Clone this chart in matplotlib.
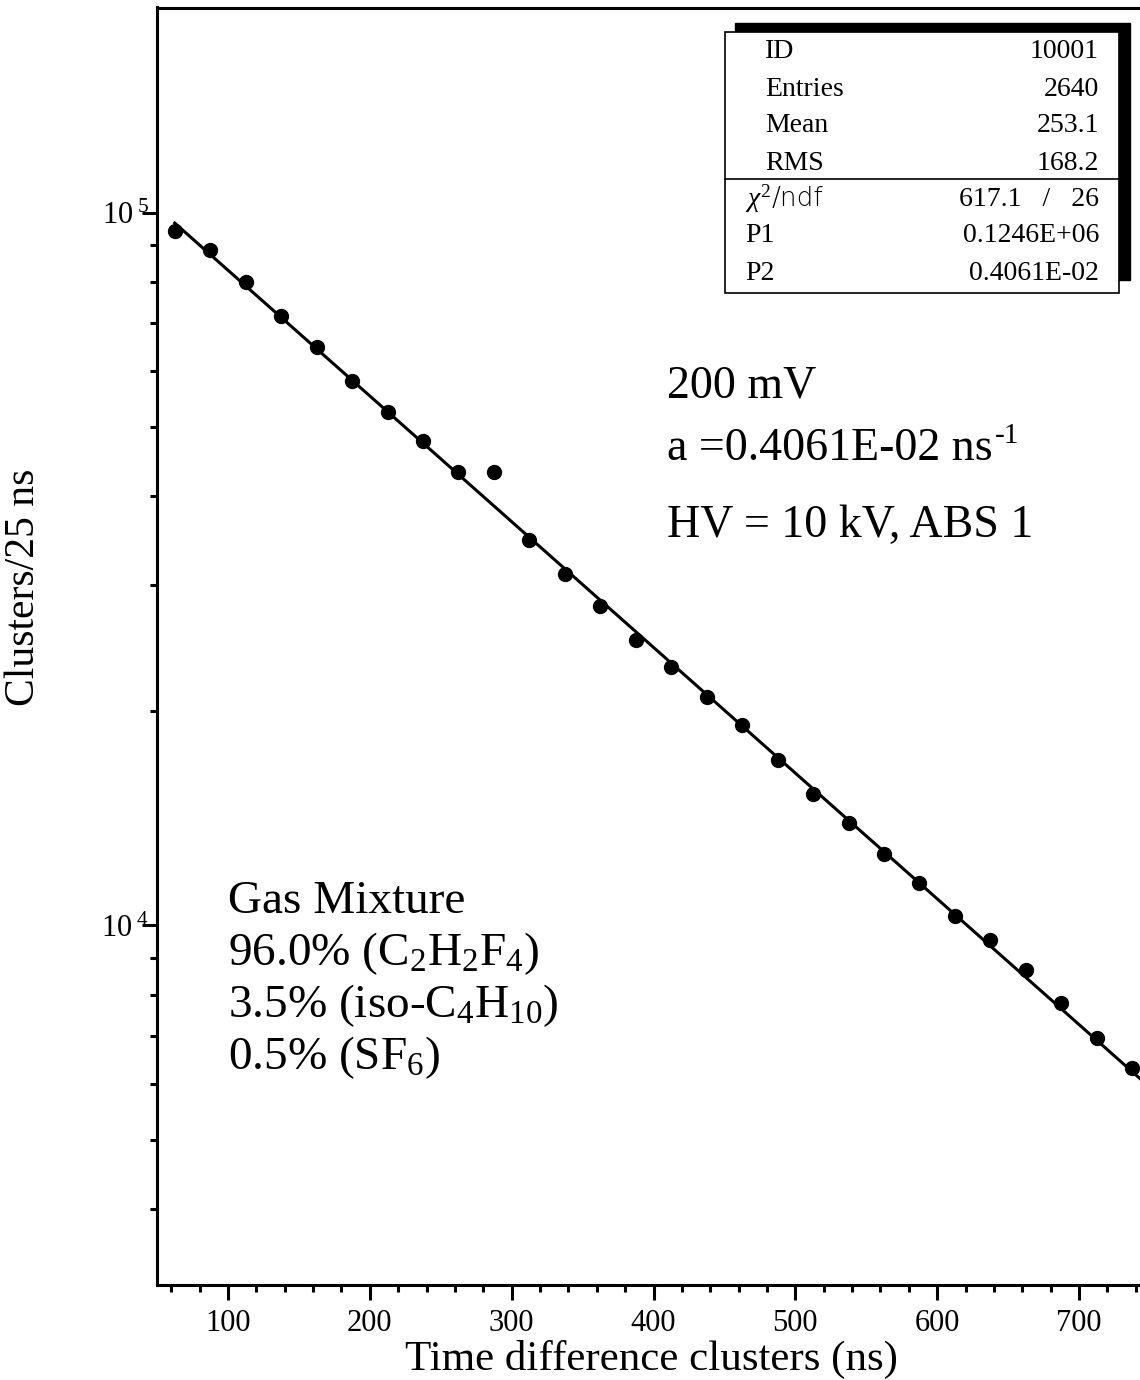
#Bibliotheken importieren
import math
import matplotlib
matplotlib.use("Agg")
import matplotlib.pyplot as plt
from matplotlib.ticker import MultipleLocator, LogLocator, FixedLocator, FuncFormatter, NullFormatter
from matplotlib.patches import Rectangle
from matplotlib.lines import Line2D

plt.rcParams['font.family'] = ['Liberation Serif', 'DejaVu Serif']
plt.rcParams['mathtext.fontset'] = 'custom'
plt.rcParams['mathtext.rm'] = 'Liberation Serif'
plt.rcParams['mathtext.it'] = 'Liberation Serif:italic'
plt.rcParams['mathtext.bf'] = 'Liberation Serif:bold'

#Daten (Bin-Mitten in ns, Cluster pro 25 ns)
time_ns = [62.5, 87.5, 112.5, 137.5, 162.5, 187.5, 212.5, 237.5, 262.5, 287.5,
           312.5, 337.5, 362.5, 387.5, 412.5, 437.5, 462.5, 487.5, 512.5, 537.5,
           562.5, 587.5, 612.5, 637.5, 662.5, 687.5, 712.5, 737.5]
clusters = [94150, 88550, 79850, 71560, 64740, 58000, 52480, 47790, 43230, 43230,
            34720, 31120, 28060, 25140, 23050, 20920, 19110, 17070, 15300, 13930,
            12600, 11480, 10320, 9550, 8670, 7790, 6960, 6300]

#Fit-Gerade (Endpunkte aus dem Bild)
fit_x = [62.5, 750]
fit_y = [96700, 5925]

#Statistik-Box
stat_labels = ['ID', 'Entries', 'Mean', 'RMS']
stat_values = ['10001', '2640', '253.1', '168.2']
fit_labels = ['P1', 'P2']
fit_values = ['0.1246E+06', '0.4061E-02']
chi2_text = '617.1   /   26'

W, H = 1140, 1380
def fx(px):
    return px / W
def fy(py):
    return 1 - py / H

fig = plt.figure(figsize=(11.4, 13.8), dpi=100)
ax = fig.add_axes([fx(157), fy(1284.5), fx(1150) - fx(157), fy(7.5) - fy(1284.5)])

ax.set_yscale('log')
ax.set_xlim(50, 750)
ax.set_ylim(3135, 194000)

ax.plot(fit_x, fit_y, color='black', lw=2.2, zorder=2)
ax.plot(time_ns, clusters, 'o', color='black', ms=10, zorder=3)

#Achsen
for s in ax.spines.values():
    s.set_linewidth(2.2)
ax.spines['right'].set_visible(False)

ax.xaxis.set_major_locator(MultipleLocator(100))
ax.xaxis.set_minor_locator(MultipleLocator(20))
ax.yaxis.set_major_locator(FixedLocator([1e4, 1e5]))
ax.yaxis.set_minor_locator(LogLocator(base=10, subs=[2, 3, 4, 5, 6, 7, 8, 9]))
ax.yaxis.set_minor_formatter(NullFormatter())
ax.yaxis.set_major_formatter(FuncFormatter(lambda v, p: r'$\mathregular{10^{\ %d}}$' % round(math.log10(v))))

ax.tick_params(which='both', direction='out', width=2.2, top=False, right=False)
ax.tick_params(axis='x', which='major', length=10.5, pad=7, labelsize=22)
ax.tick_params(axis='x', which='minor', length=5)
ax.tick_params(axis='y', which='major', length=10.5, pad=-5, labelsize=22)
ax.tick_params(axis='y', which='minor', length=5)

fig.text(fx(651), fy(1370), 'Time difference clusters (ns)', ha='center', va='baseline', fontsize=31)
fig.text(fx(24), fy(587), 'Clusters/25 ns', ha='center', va='center', rotation=90, fontsize=30)

#Beschriftungen im Plot
fig.text(fx(667), fy(397), '200 mV', fontsize=33, va='baseline')
a_txt = fig.text(fx(667), fy(460), 'a =0.4061E-02 ns', fontsize=33, va='baseline')
fig.text(fx(667), fy(537), 'HV = 10 kV, ABS 1', fontsize=33, va='baseline')

# Exponent "-1" als eigener Text (Bindestrich statt Minus)
r = fig.canvas.get_renderer()
bb = a_txt.get_window_extent(renderer=r)
fig.text(bb.x1 / (W) + 2 / W, fy(443), '-1', fontsize=21, va='baseline')

gas_lines = ['Gas Mixture', r'96.0% (C$_2$H$_2$F$_4$)', r'3.5% (iso-C$_4$H$_{10}$)', r'0.5% (SF$_6$)']
gas_base = [913, 965, 1017, 1069]
for t, b in zip(gas_lines, gas_base):
    fig.text(fx(228), fy(b), t, fontsize=34, va='baseline')

#Statistik-Box mit Schatten
fig.add_artist(Rectangle((fx(735), fy(280)), fx(1130) - fx(735), fy(23) - fy(280),
                         transform=fig.transFigure, facecolor='black', edgecolor='black', zorder=5))
fig.add_artist(Rectangle((fx(725), fy(293)), fx(1119) - fx(725), fy(32) - fy(293),
                         transform=fig.transFigure, facecolor='white', edgecolor='black', lw=1.2, zorder=6))
fig.add_artist(Line2D([fx(725), fx(1119)], [fy(179), fy(179)], transform=fig.transFigure,
                      color='black', lw=1.2, zorder=7))

row_y = [52, 90, 126, 163]
for lab, val, y in zip(stat_labels, stat_values, row_y):
    fig.text(fx(765), fy(y), lab, fontsize=20, va='center', zorder=8)
    fig.text(fx(1099), fy(y), val, fontsize=20, va='center', ha='right', zorder=8)

fig.text(fx(745), fy(199), r'$\chi^{2}$', fontsize=20, va='center', zorder=8)
fig.text(fx(772), fy(199), '/ndf', fontsize=19, va='center', family='DejaVu Sans', fontweight='light', zorder=8)
fig.text(fx(1099), fy(199), chi2_text, fontsize=20, va='center', ha='right', zorder=8)
for lab, val, y in zip(fit_labels, fit_values, [236, 273]):
    fig.text(fx(745), fy(y), lab, fontsize=20, va='center', zorder=8)
    fig.text(fx(1099), fy(y), val, fontsize=20, va='center', ha='right', zorder=8)

fig.savefig('out.png', dpi=100)
